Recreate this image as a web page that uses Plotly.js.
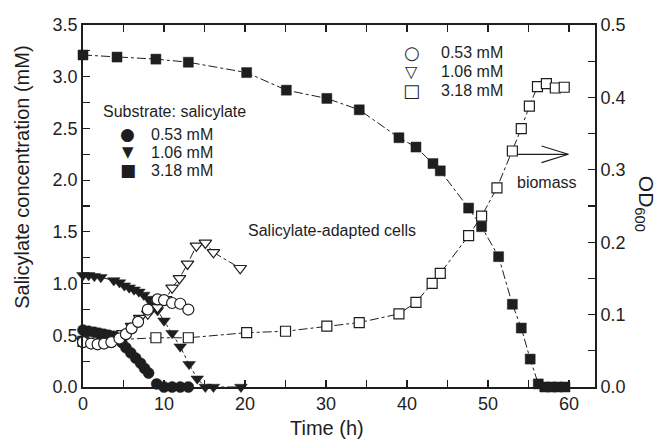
<!DOCTYPE html>
<html>
<head>
<meta charset="utf-8">
<script src="https://cdn.plot.ly/plotly-3.0.1.min.js"></script>
<style>html,body{margin:0;padding:0;background:#fff}#chart{width:660px;height:441px}</style>
</head>
<body>
<div id="chart"></div>
<script>
// Salicylate concentration (mM), filled markers, left axis
var timeC = [0, 0.7, 1.4, 2, 2.6, 3.2, 3.8, 4.3, 4.8, 5.3, 5.9, 6.5, 7.1, 7.6, 8.1, 9.1, 10, 11, 12, 13];
var salC  = [0.55, 0.54, 0.53, 0.52, 0.51, 0.50, 0.49, 0.47, 0.43, 0.38, 0.33, 0.28, 0.23, 0.18, 0.135, 0.03, 0, 0, 0, 0];

var timeT = [0, 0.7, 1.4, 2.2, 3.8, 4.5, 5.1, 5.7, 6.3, 6.9, 7.5, 8.1, 8.6, 9.2, 10, 11, 12, 13.1, 14.1, 15.1, 16.1, 19.5];
var salT  = [1.08, 1.08, 1.07, 1.06, 1.03, 1.01, 0.98, 0.96, 0.94, 0.92, 0.89, 0.85, 0.80, 0.74, 0.64, 0.52, 0.39, 0.22, 0.08, 0, 0, 0];

var timeS = [0, 4.2, 9, 13, 20.2, 25.1, 30.1, 34.1, 39, 41.1, 43.2, 44.1, 47.6, 49.2, 51.3, 53, 54.1, 55.2, 56.2, 57, 57.8, 58.6, 59.5];
var salS  = [3.21, 3.19, 3.17, 3.14, 3.04, 2.87, 2.79, 2.68, 2.41, 2.32, 2.16, 2.09, 1.73, 1.55, 1.26, 0.80, 0.57, 0.27, 0.03, 0, 0, 0, 0];

// Biomass OD600, open markers, right axis
var timeOC = [0, 1, 1.8, 2.6, 3.5, 4.5, 5.3, 6, 6.8, 8, 9.2, 10, 11, 12, 13];
var odOC   = [0.062, 0.060, 0.059, 0.060, 0.062, 0.067, 0.073, 0.081, 0.090, 0.107, 0.121, 0.120, 0.116, 0.115, 0.107];

var timeOT = [0, 1.4, 2.4, 4.9, 6, 7, 8, 9.2, 10.2, 11, 11.9, 12.9, 14, 15.1, 16.1, 19.4];
var odOT   = [0.064, 0.062, 0.063, 0.074, 0.084, 0.095, 0.101, 0.110, 0.121, 0.137, 0.150, 0.170, 0.195, 0.199, 0.186, 0.164];

var timeOS = [0, 9, 13, 20.2, 25, 30.1, 34.1, 39, 41.1, 43.1, 44.1, 47.6, 49.2, 51.1, 53, 54.1, 55.1, 56.1, 57.2, 58.3, 59.4];
var odOS   = [0.063, 0.068, 0.068, 0.075, 0.077, 0.084, 0.089, 0.101, 0.117, 0.143, 0.157, 0.209, 0.236, 0.275, 0.326, 0.357, 0.388, 0.415, 0.419, 0.413, 0.414];

var legendLabels = ['0.53 mM', '1.06 mM', '3.18 mM'];

var INK = '#1e1e1e';
var FONT = 'Liberation Sans, Arial, Helvetica, sans-serif';

function filled(x, y, sym, size) {
  return {x: x, y: y, type: 'scatter', mode: 'lines+markers', yaxis: 'y', cliponaxis: false, showlegend: false,
    line: {color: INK, width: 1, dash: 'dashdot'},
    marker: {symbol: sym, size: size, color: INK, line: {color: INK, width: 0.5}}};
}
function open(x, y, sym, size) {
  return {x: x, y: y, type: 'scatter', mode: 'lines+markers', yaxis: 'y2', cliponaxis: false, showlegend: false,
    line: {color: INK, width: 1, dash: 'dashdot'},
    marker: {symbol: sym, size: size, color: '#ffffff', line: {color: INK, width: 1.2}}};
}

var data = [
  filled(timeS, salS, 'square', 10),
  filled(timeT, salT, 'triangle-down', 11),
  filled(timeC, salC, 'circle', 11),
  open(timeOS, odOS, 'square', 10),
  open(timeOT, odOT, 'triangle-down', 11),
  open(timeOC, odOC, 'circle', 11)
];

var annotations = [
  {xref: 'x', yref: 'y', x: 2.2, y: 2.66, xanchor: 'left', yanchor: 'middle', showarrow: false,
   text: 'Substrate: salicylate', font: {size: 16, color: INK, family: FONT}},
  {xref: 'x', yref: 'y', x: 20.1, y: 1.51, xanchor: 'left', yanchor: 'middle', showarrow: false,
   text: 'Salicylate-adapted cells', font: {size: 16, color: INK, family: FONT}},
  {xref: 'x', yref: 'y', x: 53.3, y: 1.98, xanchor: 'left', yanchor: 'middle', showarrow: false,
   text: 'biomass', font: {size: 16, color: INK, family: FONT}},
  {xref: 'paper', yref: 'paper', x: 0.4766, y: -0.114, xanchor: 'center', yanchor: 'middle', showarrow: false,
   text: 'Time (h)', font: {size: 20, color: INK, family: FONT}},
  {xref: 'paper', yref: 'paper', x: -0.119, y: 0.578, xanchor: 'center', yanchor: 'middle', showarrow: false, textangle: -90,
   text: 'Salicylate concentration (mM)', font: {size: 20, color: INK, family: FONT}},
  {xref: 'paper', yref: 'paper', x: 1.097, y: 0.507, xanchor: 'center', yanchor: 'middle', showarrow: false, textangle: 90,
   text: 'OD<sub>600</sub>', font: {size: 21, color: INK, family: FONT}}
];

// legend rows (text + symbol glyphs)
var leg1Sym = ['\u25CF', '\u25BC', '\u25A0'];
var leg2Sym = ['\u25CB', '\u25BD', '\u25A1'];
var leg1Y = [2.444, 2.27, 2.095];
var leg2Y = [3.23, 3.047, 2.87];
var symSize1 = [17, 15, 17];
var symSize2 = [18, 16, 18];
for (var i = 0; i < 3; i++) {
  annotations.push({xref: 'x', yref: 'y', x: 5.5, y: leg1Y[i], xanchor: 'center', yanchor: 'middle', showarrow: false,
    text: leg1Sym[i], font: {size: symSize1[i], color: INK, family: 'DejaVu Sans'}});
  annotations.push({xref: 'x', yref: 'y', x: 8.2, y: leg1Y[i], xanchor: 'left', yanchor: 'middle', showarrow: false,
    text: legendLabels[i], font: {size: 16, color: INK, family: FONT}});
  annotations.push({xref: 'x', yref: 'y', x: 40.6, y: leg2Y[i], xanchor: 'center', yanchor: 'middle', showarrow: false,
    text: leg2Sym[i], font: {size: symSize2[i], color: INK, family: 'DejaVu Sans'}});
  annotations.push({xref: 'x', yref: 'y', x: 44.0, y: leg2Y[i], xanchor: 'left', yanchor: 'middle', showarrow: false,
    text: legendLabels[i], font: {size: 16, color: INK, family: FONT}});
}

var shapes = [
  {type: 'line', xref: 'x', yref: 'y', x0: 53.7, y0: 2.25, x1: 59.9, y1: 2.25, line: {color: INK, width: 1.2}},
  {type: 'line', xref: 'x', yref: 'y', x0: 56.6, y0: 2.33, x1: 59.9, y1: 2.25, line: {color: INK, width: 1.2}},
  {type: 'line', xref: 'x', yref: 'y', x0: 56.6, y0: 2.17, x1: 59.9, y1: 2.25, line: {color: INK, width: 1.2}}
];

function axisBase() {
  return {ticks: 'inside', ticklen: 7, tickwidth: 1.2, tickcolor: INK, showline: true, linecolor: INK, linewidth: 1.8,
    showgrid: false, zeroline: false, tickfont: {size: 18, color: INK, family: FONT}};
}
var xa = axisBase();
Object.assign(xa, {range: [0, 63.2], tick0: 0, dtick: 10, mirror: 'ticks',
  minor: {dtick: 5, ticks: 'inside', ticklen: 7, tickwidth: 1.2, tickcolor: INK, showgrid: false}});
var ya = axisBase();
Object.assign(ya, {range: [0, 3.5], tick0: 0, dtick: 0.5, tickformat: '.1f',
  minor: {dtick: 0.25, ticks: 'inside', ticklen: 7, tickwidth: 1.2, tickcolor: INK, showgrid: false}});
var ya2 = axisBase();
Object.assign(ya2, {range: [0, 0.5], overlaying: 'y', side: 'right', tick0: 0, dtick: 0.1, tickformat: '.1f',
  minor: {dtick: 0.05, ticks: 'inside', ticklen: 7, tickwidth: 1.2, tickcolor: INK, showgrid: false}});

var layout = {
  width: 660, height: 441,
  margin: {l: 83, r: 65, t: 25, b: 54},
  paper_bgcolor: '#ffffff', plot_bgcolor: '#ffffff',
  font: {family: FONT, color: INK, size: 18},
  showlegend: false,
  xaxis: xa, yaxis: ya, yaxis2: ya2,
  annotations: annotations,
  shapes: shapes
};

Plotly.newPlot('chart', data, layout, {displayModeBar: false, staticPlot: true});
</script>
</body>
</html>
